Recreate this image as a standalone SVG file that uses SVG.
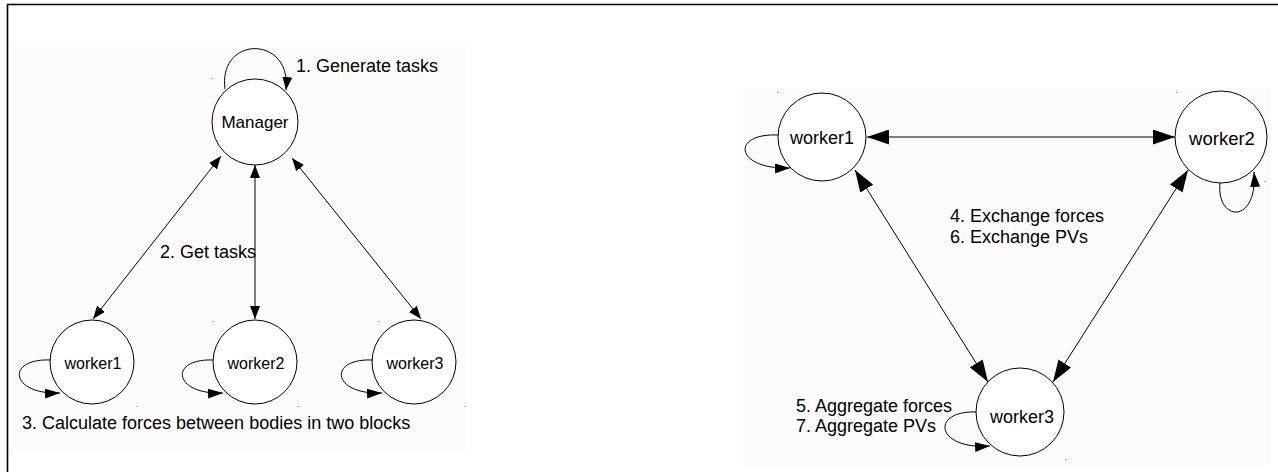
<svg xmlns="http://www.w3.org/2000/svg" width="1278" height="472" viewBox="0 0 1278 472">
<style>
.bg{fill:#fcfcfc}
.node circle{fill:#fff;stroke:#000;stroke-width:1}
.node text{font-family:"Liberation Sans",Arial,sans-serif;fill:#000;text-anchor:middle}
.lbl{font-family:"Liberation Sans",Arial,sans-serif;font-size:18px;fill:#000}
.e{fill:none;stroke:#000;stroke-width:1}
.dot{fill:#aaa}
</style>
<defs>
<marker id="s" viewBox="0 0 13 10" refX="13" refY="5" markerWidth="13" markerHeight="10" markerUnits="userSpaceOnUse" orient="auto-start-reverse"><path d="M0,0 L13,5 L0,10 z" fill="#000"/></marker>
<marker id="b" viewBox="0 0 22 15" refX="22" refY="7.5" markerWidth="22" markerHeight="15" markerUnits="userSpaceOnUse" orient="auto-start-reverse"><path d="M0,0 L22,7.5 L0,15 z" fill="#000"/></marker>
<marker id="l" viewBox="0 0 15 10" refX="15" refY="5" markerWidth="15" markerHeight="10" markerUnits="userSpaceOnUse" orient="auto"><path d="M0,0 L15,5 L0,10 z" fill="#000"/></marker>
</defs>
<rect width="1278" height="472" fill="#fff"/>
<rect class="bg" x="15" y="42" width="452" height="410"/>
<rect class="bg" x="740" y="88" width="531" height="377"/>
<path d="M7.5,472 V4.5 H1278" fill="none" stroke="#000" stroke-width="1.6"/>
<g id="dots">
<rect class="dot" x="211" y="78" width="2" height="1"/>
<rect class="dot" x="136" y="406" width="2" height="1"/>
<rect class="dot" x="297" y="406" width="2" height="1"/>
<rect class="dot" x="464" y="406" width="2" height="1"/>
<rect class="dot" x="212" y="321" width="2" height="1"/>
<rect class="dot" x="378" y="321" width="2" height="1"/>
<rect class="dot" x="777" y="92" width="2" height="1"/>
<rect class="dot" x="1176" y="92" width="2" height="1"/>
<rect class="dot" x="1264" y="181" width="2" height="1"/>
<rect class="dot" x="1065" y="459" width="2" height="1"/>
</g>
<g id="connectors">
<path class="e" d="M225,89 C218,35 292,35 286,90" marker-end="url(#s)"/>
<line class="e" x1="221" y1="156" x2="93" y2="319" marker-start="url(#s)" marker-end="url(#s)"/>
<line class="e" x1="255" y1="165" x2="255" y2="319" marker-start="url(#s)" marker-end="url(#s)"/>
<line class="e" x1="292" y1="158" x2="421" y2="319" marker-start="url(#s)" marker-end="url(#s)"/>
<path class="e" d="M51,360 C5,358 10,395 60,393" marker-end="url(#l)"/>
<path class="e" d="M214,360 C168,358 173,395 223,393" marker-end="url(#l)"/>
<path class="e" d="M373,360 C327,358 332,395 382,393" marker-end="url(#l)"/>
<line class="e" x1="867" y1="137" x2="1175" y2="137" marker-start="url(#b)" marker-end="url(#b)"/>
<line class="e" x1="855" y1="170" x2="988" y2="382" marker-start="url(#b)" marker-end="url(#b)"/>
<line class="e" x1="1188" y1="170" x2="1053" y2="382" marker-start="url(#b)" marker-end="url(#b)"/>
<path class="e" d="M778,135 C730,133 735,170 790,168" marker-end="url(#l)"/>
<path class="e" d="M1220,183 C1216,222 1258,225 1254,172" marker-end="url(#l)"/>
<path class="e" d="M977,412 C930,410 935,450 990,446" marker-end="url(#l)"/>
</g>
<g id="manager" class="node"><circle cx="255" cy="122" r="43"/><text x="255" y="128" font-size="17">Manager</text></g>
<g id="l-worker1" class="node"><circle cx="92" cy="362" r="42"/><text x="93" y="369" font-size="16">worker1</text></g>
<g id="l-worker2" class="node"><circle cx="255" cy="362" r="42"/><text x="256" y="369" font-size="16">worker2</text></g>
<g id="l-worker3" class="node"><circle cx="414" cy="362" r="42"/><text x="415" y="369" font-size="16">worker3</text></g>
<g id="r-worker1" class="node"><circle cx="822" cy="137" r="44"/><text x="822" y="144" font-size="18">worker1</text></g>
<g id="r-worker2" class="node"><circle cx="1221" cy="137" r="46"/><text x="1222" y="145" font-size="18.5">worker2</text></g>
<g id="r-worker3" class="node"><circle cx="1020" cy="412" r="44"/><text x="1022" y="423" font-size="18">worker3</text></g>
<g id="labels">
<text class="lbl" x="296" y="72">1. Generate tasks</text>
<text class="lbl" x="160" y="258" font-size="17">2. Get tasks</text>
<text class="lbl" x="22" y="429">3. Calculate forces between bodies in two blocks</text>
<text class="lbl" x="950" y="222">4. Exchange forces</text>
<text class="lbl" x="950" y="243">6. Exchange PVs</text>
<text class="lbl" x="796" y="412">5. Aggregate forces</text>
<text class="lbl" x="796" y="432">7. Aggregate PVs</text>
</g>
</svg>
